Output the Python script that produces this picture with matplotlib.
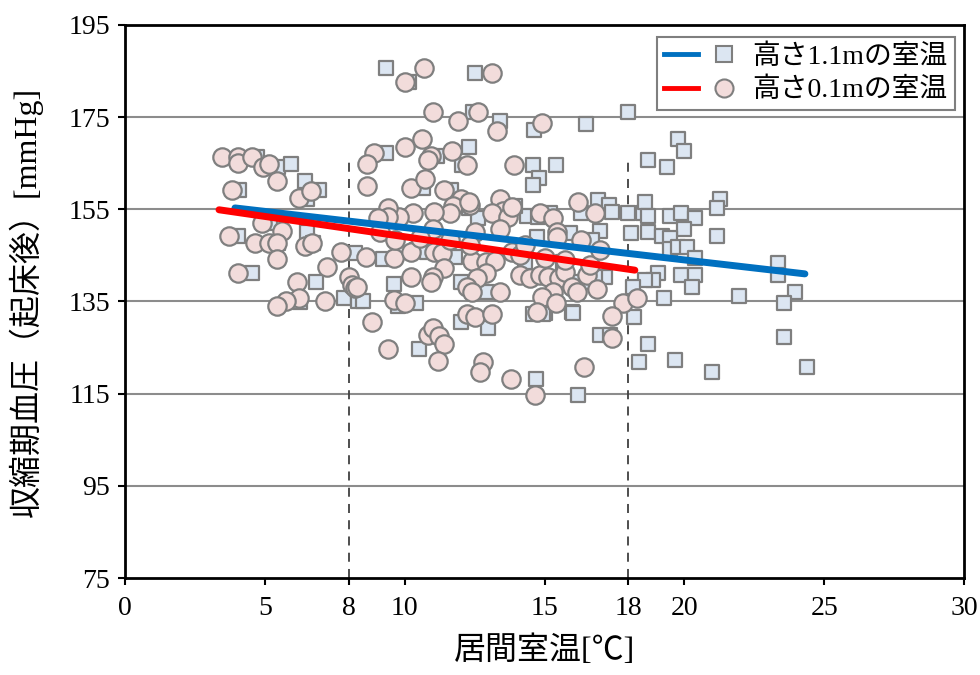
import numpy as np
import matplotlib
matplotlib.use("Agg")
import matplotlib.pyplot as plt
from matplotlib.legend_handler import HandlerTuple

plt.rcParams['font.family'] = ['Liberation Serif', 'Noto Sans CJK JP', 'DejaVu Sans']

# 高さ1.1mの室温 (squares)
x_11 = [17.98, 16.48, 14.62, 19.77, 19.99, 18.70, 19.38, 14.59, 15.41, 14.80, 14.59,
        21.27, 21.17, 16.91, 17.30, 16.30, 17.98, 18.52, 18.59, 18.70, 19.49, 19.88,
        20.38, 14.37, 16.98, 18.09, 18.70, 19.20, 19.99, 21.17, 19.49, 15.91, 16.70,
        19.49, 19.77, 20.09, 20.38, 23.35, 23.35, 19.06, 18.88, 18.59, 19.88, 20.38,
        20.27, 17.16, 18.16, 19.27, 21.95, 23.95, 23.56, 18.20, 15.98, 15.02, 16.98,
        17.34, 18.70, 23.56, 18.38, 19.66, 20.99, 24.38, 14.69, 16.20,
        9.33, 10.15, 12.51, 13.41, 12.44, 12.30, 9.33, 11.15, 12.05, 10.65, 11.66,
        12.30, 12.62, 13.76, 13.94, 4.72, 5.47, 5.93, 6.44, 6.94, 6.51, 4.08, 5.18,
        4.04, 6.51, 6.72, 5.47, 8.22, 4.54, 6.83, 7.83, 6.26, 8.33, 9.22, 10.44,
        10.80, 11.80, 9.62, 12.01, 12.94, 8.51, 10.40, 9.76, 12.01, 12.98, 10.51,
        14.77, 15.20, 17.41, 14.73, 14.30, 15.66, 16.20, 16.52, 16.80, 14.59, 14.94,
        16.02]
y_11 = [176.1, 173.5, 172.2, 170.3, 167.7, 165.7, 164.2, 164.6, 164.6, 161.8, 160.3,
        157.2, 155.3, 157.0, 155.9, 154.2, 154.2, 154.2, 156.6, 153.6, 153.6, 154.2,
        153.1, 153.6, 150.3, 149.9, 150.1, 149.2, 150.7, 149.2, 148.8, 149.9, 148.4,
        146.4, 146.8, 146.8, 144.4, 143.4, 140.8, 141.2, 139.7, 139.7, 140.8, 140.8,
        138.2, 140.3, 138.2, 135.8, 136.2, 137.1, 134.7, 131.6, 132.7, 132.5, 127.7,
        127.7, 125.8, 127.3, 121.9, 122.3, 119.7, 120.8, 118.2, 114.7,
        185.7, 182.6, 184.6, 174.2, 176.1, 168.5, 167.2, 166.6, 164.6, 159.6, 159.2,
        155.3, 153.1, 155.5, 155.7, 166.4, 164.2, 164.8, 161.2, 159.2, 157.2, 159.2,
        152.0, 149.2, 150.1, 147.7, 147.7, 145.5, 141.2, 139.2, 135.8, 134.9, 135.1,
        144.2, 146.2, 145.7, 144.7, 138.8, 139.2, 137.1, 135.1, 134.7, 134.0, 130.6,
        129.3, 124.7, 153.3, 154.2, 154.4, 149.0, 143.6, 143.6, 139.2, 139.2, 140.3,
        132.3, 132.3, 132.5]

# 高さ0.1mの室温 (circles)
x_01 = [10.69, 10.01, 13.12, 11.01, 12.62, 11.91, 13.30, 14.91, 10.62, 10.01, 8.90,
        8.65, 10.94, 10.83, 11.69, 12.23, 13.91, 8.65, 10.23, 10.73, 11.41, 12.01,
        12.33, 13.41, 13.51, 13.12, 11.73, 11.62, 11.05, 10.30, 9.80, 9.40, 9.40,
        9.05, 12.30, 13.69, 13.41, 11.01, 12.51, 3.47, 4.04, 4.04, 4.54, 4.93, 5.15,
        5.43, 3.83, 6.22, 6.65, 4.90, 5.61, 3.72, 4.65, 5.15, 5.43, 6.44, 6.69, 5.43,
        7.72, 7.22, 4.04, 6.15, 8.01, 8.12, 8.22, 7.15, 6.22, 5.76, 5.43, 9.62, 10.23,
        11.05, 11.33, 11.41, 11.01, 10.94, 10.23, 8.29, 12.41, 12.91, 13.23, 12.91,
        12.58, 12.23, 12.41, 13.41, 9.62, 10.01, 8.83, 12.23, 12.51, 13.12, 10.83,
        11.01, 11.23, 11.41, 9.40, 11.19, 12.80, 12.69, 13.80, 14.66, 13.84, 14.12,
        14.48, 14.84, 15.12, 15.52, 15.73, 16.52, 15.98, 16.16, 16.88, 15.30, 14.91,
        15.41, 14.73, 17.80, 18.31, 17.41, 17.41, 16.41, 16.20, 16.80, 14.84, 15.30,
        13.84, 15.45, 15.45, 16.30, 8.62, 14.12, 15.02, 15.73, 16.63, 16.98, 14.30,
        9.12, 10.55, 11.62, 12.33, 9.65]
y_01 = [185.7, 182.6, 184.6, 176.1, 176.1, 174.2, 172.0, 173.7, 170.3, 168.5, 167.2,
        164.8, 166.6, 165.7, 167.7, 164.6, 164.6, 160.1, 159.6, 161.6, 159.2, 157.2,
        155.9, 157.2, 154.6, 154.2, 155.7, 154.2, 154.4, 154.2, 153.3, 155.3, 153.3,
        153.1, 156.6, 153.3, 150.7, 150.7, 150.1, 166.4, 166.4, 165.1, 166.4, 164.2,
        164.8, 161.2, 159.2, 157.4, 159.0, 152.0, 150.3, 149.2, 147.7, 147.7, 147.7,
        147.0, 147.7, 144.2, 145.7, 142.5, 141.2, 139.2, 140.3, 138.6, 137.9, 135.1,
        135.8, 135.1, 134.0, 144.4, 145.7, 145.7, 145.5, 142.3, 140.3, 139.2, 140.3,
        138.2, 143.8, 143.6, 143.8, 141.2, 140.1, 138.2, 137.1, 137.1, 135.3, 134.7,
        130.6, 132.3, 131.6, 132.3, 127.7, 129.3, 127.5, 125.8, 124.7, 122.1, 121.9,
        119.7, 118.2, 114.7, 145.7, 140.8, 140.1, 140.8, 140.3, 140.1, 141.4, 140.8,
        138.2, 137.1, 137.7, 137.1, 136.0, 134.7, 132.7, 134.7, 135.8, 131.9, 127.1,
        120.8, 156.6, 154.2, 154.2, 153.1, 155.5, 150.1, 149.0, 148.4, 144.7, 145.1,
        144.4, 144.0, 142.9, 146.2, 147.3, 150.1, 148.8, 148.4, 147.3, 148.4]

# trend lines (slope, intercept, x range)
fit_11 = (-0.702, 158.06)
range_11 = [3.93, 24.31]
fit_01 = (-0.881, 157.86)
range_01 = [3.36, 18.23]

x_ticks = [0, 5, 8, 10, 15, 18, 20, 25, 30]
y_ticks = [75, 95, 115, 135, 155, 175, 195]
ref_x = [8, 18]

fig = plt.figure(figsize=(9.8, 6.75), dpi=100)
ax = fig.add_axes([0.1276, 0.1437, 0.8561, 0.8193])

for v in y_ticks[1:-1]:
    ax.axhline(v, color='#8c8c8c', lw=1.5, zorder=1)
for v in ref_x:
    ax.plot([v, v], [75, 165.2], color='#404040', lw=1.3, ls=(0, (5, 4)), zorder=1)

sq = ax.scatter(x_11, y_11, marker='s', s=115, facecolor='#DCE6F2',
                edgecolor='#7f7f7f', linewidth=1.6, zorder=3)
ci = ax.scatter(x_01, y_01, marker='o', s=175, facecolor='#F2DCDB',
                edgecolor='#7f7f7f', linewidth=1.6, zorder=4)

xs = np.array(range_11)
l1, = ax.plot(xs, fit_11[0] * xs + fit_11[1], color='#0070C0', lw=5,
              solid_capstyle='round', zorder=5)
xs = np.array(range_01)
l2, = ax.plot(xs, fit_01[0] * xs + fit_01[1], color='#FF0000', lw=5,
              solid_capstyle='round', zorder=6)

ax.set_xlim(0, 30)
ax.set_ylim(75, 195)
ax.set_xticks(x_ticks)
ax.set_yticks(y_ticks)
ax.tick_params(labelsize=20, direction='out', length=5, width=1.5)
ax.tick_params(axis='x', pad=8)
ax.tick_params(axis='y', pad=6)
for s in ax.spines.values():
    s.set_linewidth(2)

ax.set_xlabel('居間室温[℃]', fontsize=23, labelpad=10)
ax.set_ylabel('収縮期血圧（起床後）[mmHg]', fontsize=23, labelpad=18)

lh1 = (plt.Line2D([], [], color='#0070C0', lw=3.5),
       plt.Line2D([], [], marker='s', ls='', ms=12, mfc='#DCE6F2', mec='#7f7f7f', mew=1.5))
lh2 = (plt.Line2D([], [], color='#FF0000', lw=3.5),
       plt.Line2D([], [], marker='o', ls='', ms=13, mfc='#F2DCDB', mec='#7f7f7f', mew=1.5))
leg = ax.legend([lh1, lh2], ['高さ1.1mの室温', '高さ0.1mの室温'],
                handler_map={tuple: HandlerTuple(ndivide=None, pad=0.3)},
                handlelength=2.8, fontsize=20, loc='upper right',
                bbox_to_anchor=(0.989, 0.978), borderaxespad=0,
                fancybox=False, framealpha=1,
                edgecolor='#7f7f7f', borderpad=0.25, labelspacing=0.3,
                handletextpad=0.4)
leg.get_frame().set_linewidth(1.5)

fig.savefig('out.png', dpi=100)
